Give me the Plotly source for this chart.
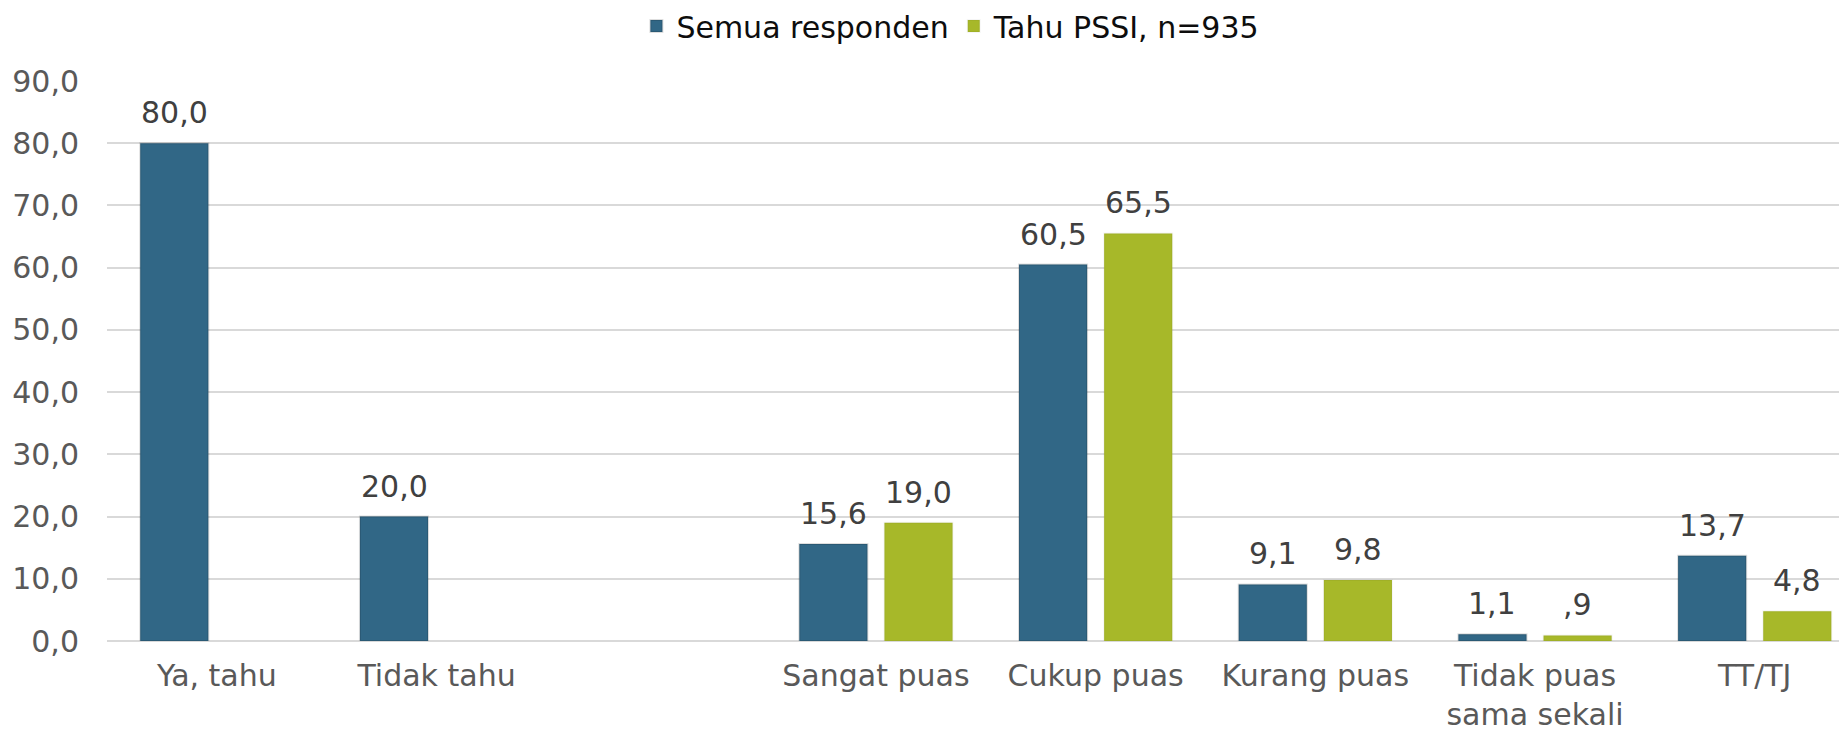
import plotly.graph_objects as go

# Kategori (slot kosong " " sebagai pemisah antara dua kelompok pertanyaan)
kategori = ['Ya, tahu', 'Tidak tahu', ' ', 'Sangat puas', 'Cukup puas',
            'Kurang puas', 'Tidak puas<br>sama sekali', 'TT/TJ']

semua_responden = [80.0, 20.0, None, 15.6, 60.5, 9.1, 1.1, 13.7]
tahu_pssi = [None, None, None, 19.0, 65.5, 9.8, 0.9, 4.8]

nama_seri = ['Semua responden', 'Tahu PSSI, n=935']
warna = ['#316786', '#a7b829']

y_ticks = [0, 10, 20, 30, 40, 50, 60, 70, 80, 90]

FONT = '"DejaVu Sans", sans-serif'
UKURAN = 30
BARGAP = 0.225
SLOT_PX = 219.6
# halaman html punya margin body 8px, jadi ukuran figure dikurangi
OFFSET = 8


def format_label(v):
    # format gaya SPSS: koma desimal, tanpa nol di depan (0,9 -> ,9)
    s = f'{v:.1f}'.replace('.', ',')
    if s.startswith('0,'):
        s = s[1:]
    return s


fig = go.Figure()
for nama, data, cor in zip(nama_seri, [semua_responden, tahu_pssi], warna):
    fig.add_trace(go.Bar(
        x=kategori,
        y=data,
        name=nama,
        marker_color=cor,
        marker_line=dict(width=2, color='rgba(0,0,0,0.13)' if cor == warna[0] else 'rgba(0,0,0,0.04)'),
    ))

# label nilai di atas batang
geser = SLOT_PX * (1 - BARGAP) / 4
for i, data in enumerate([semua_responden, tahu_pssi]):
    for k, v in zip(kategori, data):
        if v is None:
            continue
        fig.add_annotation(
            x=k, y=v, text=format_label(v), showarrow=False,
            xshift=-geser if i == 0 else geser, yshift=11, yanchor='bottom',
            font=dict(family=FONT, size=UKURAN, color='#404040'),
        )

tinggi = 735 - OFFSET
fig.update_layout(
    width=1847 - OFFSET,
    height=tinggi,
    margin=dict(l=107 - OFFSET, r=0, t=81 - OFFSET, b=94),
    barmode='group',
    bargap=BARGAP,
    bargroupgap=0.2,
    separators=',.',
    plot_bgcolor='white',
    paper_bgcolor='white',
    font=dict(family=FONT, size=UKURAN, color='#595959'),
    legend=dict(
        orientation='h', x=0.485, xanchor='center',
        yref='container', y=1 - 18 / tinggi, yanchor='middle',
        font=dict(family=FONT, size=UKURAN, color='#0d0d0d'),
        itemwidth=30, traceorder='normal',
    ),
    showlegend=True,
)

fig.update_xaxes(
    range=[-0.5, 7.42],
    showgrid=False,
    showline=False,
    automargin=False,
    tickfont=dict(family=FONT, size=UKURAN, color='#595959'),
    ticklabelstandoff=14,
)

fig.update_yaxes(
    range=[0, 90],
    tickvals=y_ticks,
    tickformat='.1f',
    showgrid=True,
    gridcolor='#d9d9d9',
    gridwidth=2,
    zeroline=True,
    zerolinecolor='#d9d9d9',
    zerolinewidth=2,
    showline=False,
    automargin=False,
    tickfont=dict(family=FONT, size=UKURAN, color='#595959'),
    ticklabelstandoff=27,
)

fig.write_html('out.html')
